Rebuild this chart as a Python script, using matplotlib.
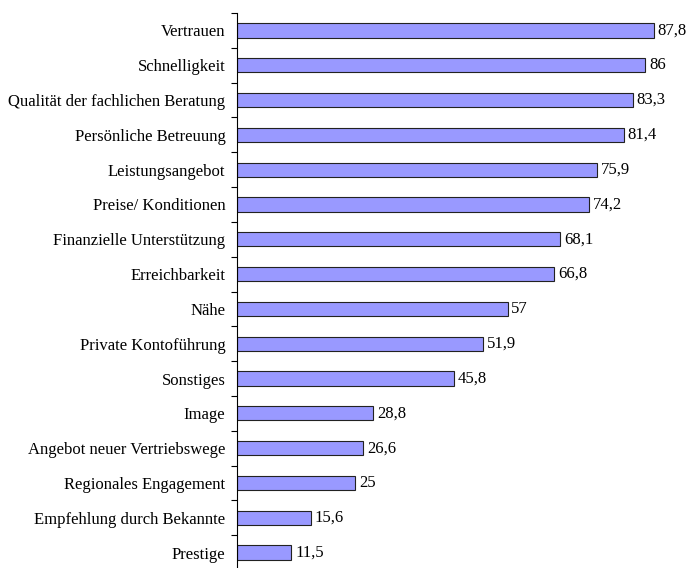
import matplotlib
matplotlib.use("Agg")
import matplotlib.pyplot as plt
import numpy as np

categories = ["Vertrauen", "Schnelligkeit", "Qualität der fachlichen Beratung",
              "Persönliche Betreuung", "Leistungsangebot", "Preise/ Konditionen",
              "Finanzielle Unterstützung", "Erreichbarkeit", "Nähe",
              "Private Kontoführung", "Sonstiges", "Image",
              "Angebot neuer Vertriebswege", "Regionales Engagement",
              "Empfehlung durch Bekannte", "Prestige"]
values = [87.8, 86, 83.3, 81.4, 75.9, 74.2, 68.1, 66.8, 57, 51.9, 45.8, 28.8,
          26.6, 25, 15.6, 11.5]
value_labels = ["87,8", "86", "83,3", "81,4", "75,9", "74,2", "68,1", "66,8", "57",
                "51,9", "45,8", "28,8", "26,6", "25", "15,6", "11,5"]

plt.rcParams['font.family'] = ['Liberation Serif', 'DejaVu Serif']

W, H = 691, 568
fig = plt.figure(figsize=(W/100, H/100), dpi=100)
left = 236.5 / W
bottom_px = 570
xmax = 95
width_px = xmax * 4.755
ax = fig.add_axes([left, 1 - bottom_px / H, width_px / W, (bottom_px - 13) / H])

n = len(categories)
y = np.arange(n)
ax.barh(y, values, height=0.41, color="#9999FF", edgecolor="#222222", linewidth=0.8)
ax.set_ylim(n - 0.5, -0.5)
ax.set_xlim(0, xmax)

for yi, v, lab in zip(y, values, value_labels):
    ax.text(v + 0.8, yi, lab, va="center", ha="left", fontsize=12)

ax.set_yticks(y)
ax.set_yticklabels(categories, fontsize=12)
ax.tick_params(axis="y", which="major", length=0, pad=8)
ax.set_yticks(np.arange(-0.5, n, 1), minor=True)
ax.tick_params(axis="y", which="minor", length=4, width=0.8, direction="out")
ax.set_xticks([])
for s in ["top", "right", "bottom"]:
    ax.spines[s].set_visible(False)
ax.spines["left"].set_linewidth(0.8)

fig.savefig("out.png", dpi=100)
